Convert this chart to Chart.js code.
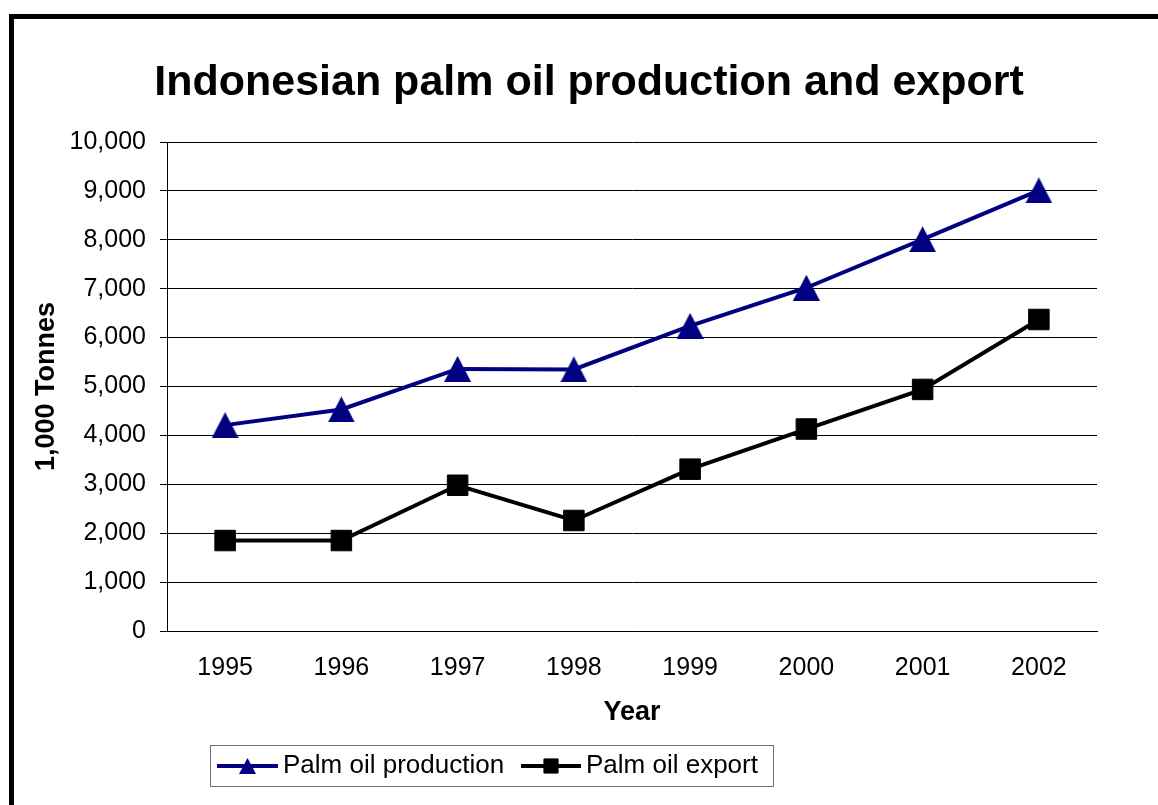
<!DOCTYPE html>
<html>
<head>
<meta charset="utf-8">
<script src="https://cdn.jsdelivr.net/npm/chart.js@4/dist/chart.umd.min.js"></script>
<style>
  html, body { margin: 0; padding: 0; background: #ffffff; }
  #wrap { position: relative; width: 1158px; height: 805px; }
</style>
</head>
<body>
<div id="wrap"><canvas id="c" width="1158" height="805"></canvas></div>
<script>
const titleText = 'Indonesian palm oil production and export';
const years = ['1995', '1996', '1997', '1998', '1999', '2000', '2001', '2002'];
const production = [4210, 4530, 5360, 5350, 6240, 7020, 8010, 9010];
const exportVals = [1850, 1850, 2980, 2260, 3310, 4130, 4940, 6370];
const yTicks = [0, 1000, 2000, 3000, 4000, 5000, 6000, 7000, 8000, 9000, 10000];
const seriesNames = ['Palm oil production', 'Palm oil export'];
const xTitle = 'Year';
const yTitle = '1,000 Tonnes';

const FONT = '"Liberation Sans", Arial, sans-serif';

function makeTriangle(w, h, color) {
  const cv = document.createElement('canvas');
  cv.width = w; cv.height = h;
  const c = cv.getContext('2d');
  c.fillStyle = color;
  c.beginPath();
  c.moveTo(w / 2, 0);
  c.lineTo(w, h);
  c.lineTo(0, h);
  c.closePath();
  c.fill();
  return cv;
}
const triBig = makeTriangle(27, 26, '#000080');
const triSmall = makeTriangle(17, 16, '#000080');

const decorPlugin = {
  id: 'decor',
  beforeDraw(chart) {
    const ctx = chart.ctx;
    ctx.save();
    ctx.fillStyle = '#000';
    ctx.fillRect(9, 14, 1149, 5);
    ctx.fillRect(9, 14, 5, 791);
    ctx.restore();
  },
  afterDraw(chart) {
    const ctx = chart.ctx;
    ctx.save();
    ctx.fillStyle = '#000';
    ctx.font = 'bold 43px ' + FONT;
    ctx.textAlign = 'center';
    ctx.textBaseline = 'alphabetic';
    ctx.fillText(titleText, 589, 95);
    ctx.strokeStyle = '#707070';
    ctx.lineWidth = 1;
    ctx.strokeRect(210.5, 745.5, 563, 41);
    const items = [
      { x0: 217, x1: 278, tx: 283, marker: triSmall },
      { x0: 521, x1: 581, tx: 586, marker: 'rect' }
    ];
    chart.data.datasets.forEach((ds, i) => {
      const it = items[i];
      const cy = 766;
      ctx.strokeStyle = ds.borderColor;
      ctx.lineWidth = 4;
      ctx.beginPath();
      ctx.moveTo(it.x0, cy);
      ctx.lineTo(it.x1, cy);
      ctx.stroke();
      ctx.fillStyle = ds.pointBackgroundColor;
      ctx.strokeStyle = ds.pointBorderColor;
      ctx.lineWidth = 1;
      Chart.helpers.drawPoint(ctx, { pointStyle: it.marker, radius: 10, rotation: 0, borderWidth: 1 }, (it.x0 + it.x1) / 2, cy);
      ctx.fillStyle = '#000';
      ctx.font = '26px ' + FONT;
      ctx.textAlign = 'left';
      ctx.textBaseline = 'middle';
      ctx.fillText(ds.label, it.tx, cy);
    });
    ctx.restore();
  }
};

new Chart(document.getElementById('c'), {
  type: 'line',
  data: {
    labels: years,
    datasets: [
      {
        label: seriesNames[0],
        data: production,
        borderColor: '#000080',
        backgroundColor: '#000080',
        pointBackgroundColor: '#000080',
        pointBorderColor: '#000080',
        borderWidth: 4,
        pointStyle: triBig,
        pointRadius: 14,
        pointBorderWidth: 1,
        tension: 0
      },
      {
        label: seriesNames[1],
        data: exportVals,
        borderColor: '#000000',
        backgroundColor: '#000000',
        pointBackgroundColor: '#000000',
        pointBorderColor: '#000000',
        borderWidth: 4,
        pointStyle: 'rect',
        pointRadius: 14.5,
        pointBorderWidth: 1,
        tension: 0
      }
    ]
  },
  options: {
    responsive: false,
    animation: false,
    devicePixelRatio: 1,
    layout: { padding: { left: 0, top: 142, right: 61, bottom: 0 } },
    plugins: {
      legend: { display: false },
      title: { display: false },
      tooltip: { enabled: false }
    },
    scales: {
      x: {
        type: 'category',
        offset: true,
        afterFit(scale) { scale.height = 174; },
        grid: { display: false, drawTicks: false },
        border: { display: true, color: '#000', width: 1 },
        ticks: {
          color: '#000',
          font: { family: FONT, size: 25 },
          padding: 22,
          maxRotation: 0,
          autoSkip: false
        },
        title: {
          display: true,
          text: xTitle,
          color: '#000',
          font: { family: FONT, size: 27, weight: 'bold' },
          padding: { top: 0, bottom: 76 }
        }
      },
      y: {
        min: 0,
        max: 10000,
        afterFit(scale) { scale.width = 167; },
        afterBuildTicks(scale) { scale.ticks = yTicks.map(v => ({ value: v })); },
        grid: {
          color: '#000',
          lineWidth: 1,
          drawTicks: true,
          tickLength: 7,
          tickColor: '#000'
        },
        border: { display: true, color: '#000', width: 1 },
        ticks: {
          color: '#000',
          font: { family: FONT, size: 25 },
          padding: 14,
          callback: (v) => Number(v).toLocaleString('en-US')
        },
        title: {
          display: true,
          text: yTitle,
          color: '#000',
          font: { family: FONT, size: 27, weight: 'bold' },
          padding: { top: 30, bottom: 0 }
        }
      }
    }
  },
  plugins: [decorPlugin]
});
</script>
</body>
</html>
